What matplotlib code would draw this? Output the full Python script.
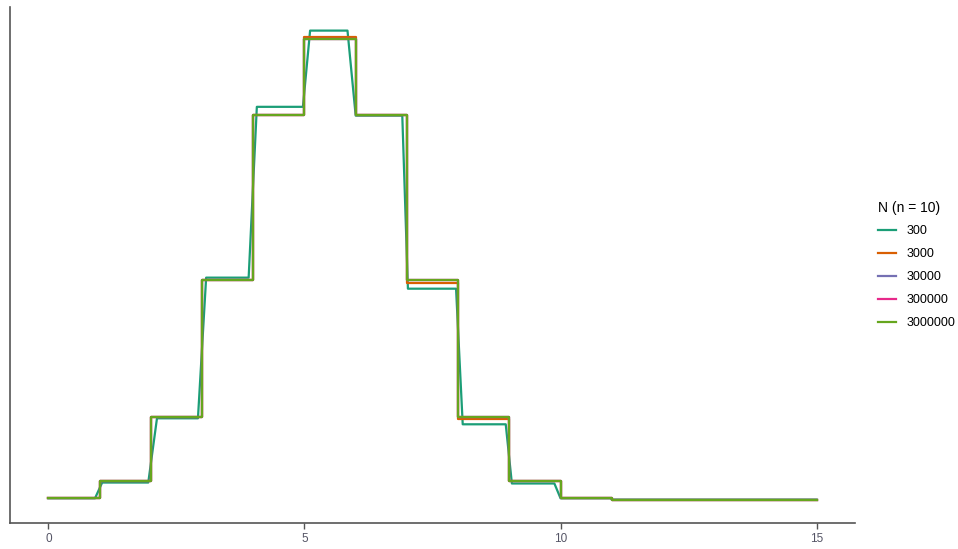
import numpy as np
import matplotlib.pyplot as plt

plt.rcParams['font.family'] = ['Liberation Sans', 'DejaVu Sans']

# support of the step curves (value k holds on [k, k+1))
k_edges = [0, 1, 2, 3, 4, 5, 6, 7, 8, 9, 10, 11, 15]

# estimated probabilities per k (last value repeated to close the step at 15)
p_3000 = [0.001, 0.0098, 0.0439, 0.1172, 0.2051, 0.2472, 0.2051, 0.1158, 0.0430, 0.0098, 0.001, 0.0, 0.0]
p_30000 = [0.001, 0.0098, 0.0439, 0.1172, 0.2055, 0.2461, 0.2051, 0.1172, 0.0439, 0.0098, 0.001, 0.0, 0.0]
p_300000 = [0.001, 0.0098, 0.0439, 0.1172, 0.2051, 0.2461, 0.2051, 0.1172, 0.0439, 0.0098, 0.001, 0.0, 0.0]
p_3000000 = [0.001, 0.0098, 0.0439, 0.1172, 0.2051, 0.2461, 0.2051, 0.1172, 0.0439, 0.0098, 0.001, 0.0, 0.0]

# N = 300 curve, read as a polyline
x_300 = [0, 0.91, 1.05, 1.95, 2.12, 2.92, 3.08, 3.91, 4.07, 4.97, 5.11, 5.84, 6.0,
         6.91, 7.02, 7.96, 8.09, 8.93, 9.05, 9.88, 10.0, 10.98, 11.0, 15]
y_300 = [0.0007, 0.0007, 0.0091, 0.0091, 0.0434, 0.0434, 0.1185, 0.1185, 0.2097, 0.2097,
         0.2504, 0.2504, 0.2050, 0.2050, 0.1126, 0.1126, 0.0402, 0.0402, 0.0086, 0.0086,
         0.0007, 0.0007, 0.0, 0.0]

labels = ['300', '3000', '30000', '300000', '3000000']
colors = ['#1B9E77', '#D95F02', '#7570B3', '#E7298A', '#66A61E']

fig = plt.figure(figsize=(9.58, 5.49), dpi=100)
ax = fig.add_axes([10 / 958, 1 - 523 / 549, 845 / 958, 516 / 549])

ax.plot(x_300, y_300, color=colors[0], lw=1.6, label=labels[0])
for p, lab, c in zip([p_3000, p_30000, p_300000, p_3000000], labels[1:], colors[1:]):
    ax.step(k_edges, p, where='post', color=c, lw=1.6, label=lab)

ax.set_xlim(-0.75, 15.75)
ax.set_ylim(-0.0125, 0.263)
ax.set_xticks([0, 5, 10, 15])
ax.set_yticks([])
for s in ['top', 'right']:
    ax.spines[s].set_visible(False)
for s in ['left', 'bottom']:
    ax.spines[s].set_color('#555555')
    ax.spines[s].set_linewidth(1.2)
ax.tick_params(axis='x', colors='#555555', labelcolor='#555566', length=4, width=1,
               labelsize=8.5, pad=3)

leg = ax.legend(loc='upper left', bbox_to_anchor=(867 / 958, 1 - 190 / 549),
                bbox_transform=fig.transFigure, frameon=False, title='N (n = 10)',
                fontsize=9, title_fontsize=10, handlelength=1.45, labelspacing=0.88,
                handletextpad=0.8, alignment='left')
leg._legend_box.sep = 7

fig.savefig('out.png', dpi=100)
